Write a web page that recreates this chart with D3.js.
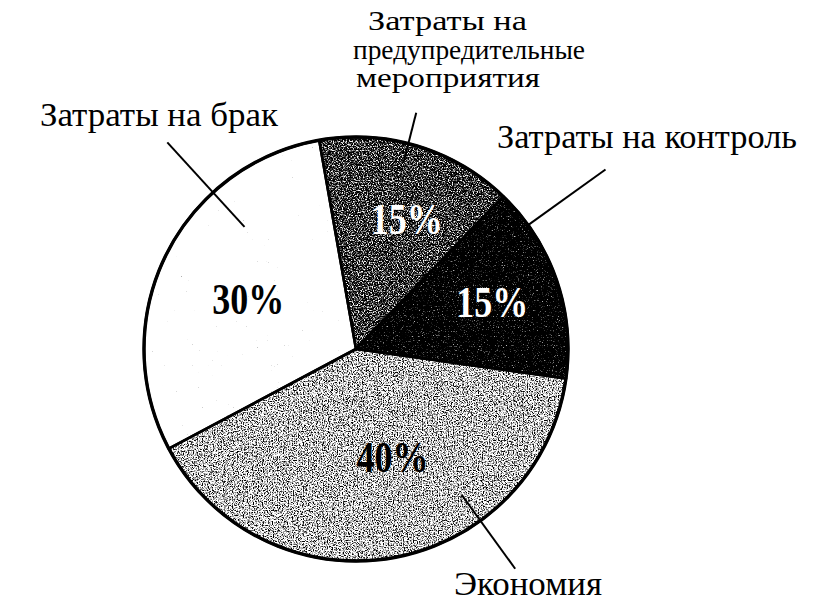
<!DOCTYPE html>
<html lang="ru">
<head>
<meta charset="utf-8">
<title>Структура затрат на качество</title>
<script src="https://cdn.jsdelivr.net/npm/d3@7"></script>
<style>
  html, body { margin: 0; padding: 0; background: #fff; }
  svg { display: block; }
  text { font-family: "Liberation Serif", "Times New Roman", serif; }
</style>
</head>
<body>
<svg id="chart" width="816" height="613"></svg>
<script>
// Доли статей затрат (в процентах), по часовой стрелке
const categories = [
  "Затраты на предупредительные мероприятия",
  "Затраты на контроль",
  "Экономия",
  "Затраты на брак"
];
const shares = [15, 15, 40, 30];
const shareLabels = ["15%", "15%", "40%", "30%"];
const labelLines = [
  ["Затраты на", "предупредительные", "мероприятия"],
  ["Затраты на контроль"],
  ["Экономия"],
  ["Затраты на брак"]
];

// Оформление секторов: базовый тон и сила зерна
const tones = [0.16, -0.35, 0.78, 2.3];
const grain = [4.0, 3.0, 4.0, 4.0];
const valueColors = ["#fff", "#fff", "#000", "#000"];

// Раскладка
const cx = 356, cy = 349, R = 212;
const startDeg = -10;
// подписи процентов: доля угла сектора и радиус (в долях R)
const valuePos = [[0.58, 0.66], [0.50, 0.68], [0.44, 0.54], [0.49, 0.56]];
// выноски: доля угла сектора, внутренний и внешний радиус
const leaders = [[0.45, 0.905, 1.15], [0.19, 1.0, 1.45], [0.32, 0.85, 1.28], [0.70, 0.78, 1.32]];
// текстовые подписи: x строк, y первой строки, шаг строк, ширина строк, кегль
const labelLayout = [
  { x: [368, 353, 356], y: 30, dy: 28.5, w: [159, 232, 184], size: 28 },
  { x: [497], y: 148, dy: 0, w: [300], size: 33 },
  { x: [454], y: 595, dy: 0, w: [148], size: 33 },
  { x: [40], y: 126, dy: 0, w: [238], size: 33 }
];

const svg = d3.select("#chart");
const defs = svg.append("defs");

const toRad = d => d * Math.PI / 180;
const pie = d3.pie().sort(null).value(d => d)
  .startAngle(toRad(startDeg)).endAngle(toRad(startDeg) + 2 * Math.PI);
const arcs = pie(shares);
const arc = d3.arc().innerRadius(0).outerRadius(R);

const polar = (a, r) => [cx + r * Math.sin(a), cy - r * Math.cos(a)];

// Зернистая заливка для каждого сектора (координаты фильтра — от центра круга)
arcs.forEach((d, i) => {
  const a = grain[i], b = tones[i] - a * 0.5;
  const f = defs.append("filter")
    .attr("id", "grain-" + i)
    .attr("filterUnits", "userSpaceOnUse")
    .attr("x", -R - 10).attr("y", -R - 10)
    .attr("width", 2 * R + 20).attr("height", 2 * R + 20)
    .attr("color-interpolation-filters", "sRGB");
  f.append("feTurbulence")
    .attr("type", "fractalNoise").attr("baseFrequency", 0.8)
    .attr("numOctaves", 2).attr("seed", 7 + i * 13).attr("result", "noise");
  f.append("feColorMatrix").attr("in", "noise").attr("type", "matrix")
    .attr("values", `${a} 0 0 0 ${b}  ${a} 0 0 0 ${b}  ${a} 0 0 0 ${b}  0 0 0 0 1`)
    .attr("result", "tone");
  f.append("feComposite").attr("in", "tone").attr("in2", "SourceGraphic").attr("operator", "in");
});

const g = svg.append("g").attr("transform", `translate(${cx},${cy})`);

g.selectAll("path.fill")
  .data(arcs)
  .join("path")
  .attr("class", "fill")
  .attr("d", arc)
  .attr("fill", "#000")
  .attr("filter", (d, i) => `url(#grain-${i})`);

g.selectAll("path.edge")
  .data(arcs)
  .join("path")
  .attr("class", "edge")
  .attr("d", arc)
  .attr("fill", "none")
  .attr("stroke", "#000")
  .attr("stroke-width", 2.6)
  .attr("stroke-linejoin", "round");

g.append("circle")
  .attr("r", R)
  .attr("fill", "none")
  .attr("stroke", "#000")
  .attr("stroke-width", 3.4);

// Выноски
svg.selectAll("line.leader")
  .data(arcs)
  .join("line")
  .attr("class", "leader")
  .each(function (d, i) {
    const [t, r0, r1] = leaders[i];
    const ang = d.startAngle + t * (d.endAngle - d.startAngle);
    const p0 = polar(ang, r0 * R), p1 = polar(ang, r1 * R);
    d3.select(this)
      .attr("x1", p0[0]).attr("y1", p0[1])
      .attr("x2", p1[0]).attr("y2", p1[1]);
  })
  .attr("stroke", "#000")
  .attr("stroke-width", 2);

// Проценты внутри секторов
svg.selectAll("text.share")
  .data(arcs)
  .join("text")
  .attr("class", "share")
  .each(function (d, i) {
    const [t, rr] = valuePos[i];
    const ang = d.startAngle + t * (d.endAngle - d.startAngle);
    const [x, y] = polar(ang, rr * R);
    d3.select(this).attr("x", x - 36).attr("y", y + 15);
  })
  .attr("font-size", 45)
  .attr("font-weight", "bold")
  .attr("textLength", 72)
  .attr("lengthAdjust", "spacingAndGlyphs")
  .attr("fill", (d, i) => valueColors[i])
  .text((d, i) => shareLabels[i]);

// Названия статей
labelLines.forEach((lines, i) => {
  const L = labelLayout[i];
  const t = svg.append("text")
    .attr("class", "label")
    .attr("font-size", L.size)
    .attr("fill", "#000");
  lines.forEach((line, j) => {
    t.append("tspan")
      .attr("x", L.x[j])
      .attr("y", L.y + j * L.dy)
      .attr("textLength", L.w[j])
      .attr("lengthAdjust", "spacingAndGlyphs")
      .text(line);
  });
  t.append("title").text(categories[i]);
});
</script>
</body>
</html>
